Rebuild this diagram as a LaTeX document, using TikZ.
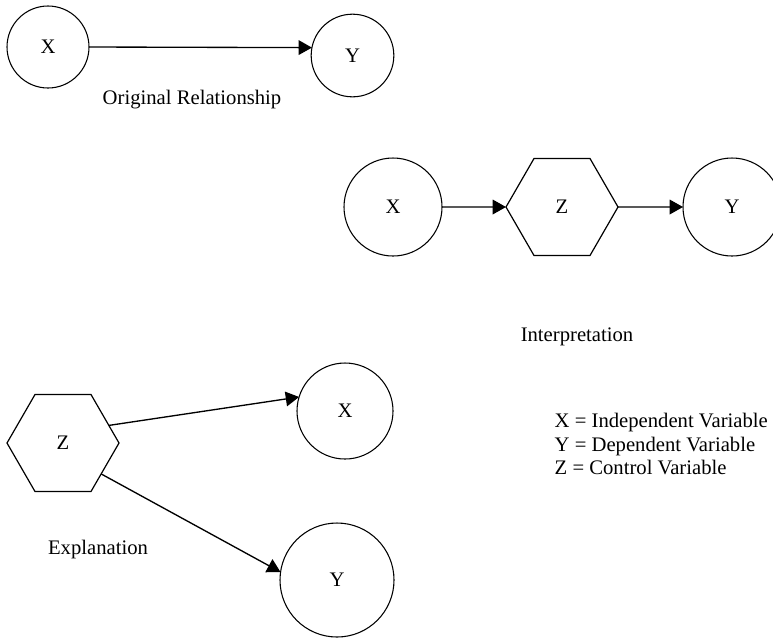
\documentclass[tikz,border=0pt]{standalone}
\usepackage{fontspec}
\setmainfont{Liberation Serif}
\usetikzlibrary{shapes.geometric,arrows.meta}

\begin{document}
\begin{tikzpicture}[x=0.75pt,y=-0.75pt,
  font=\fontsize{15.5}{17.6}\selectfont,
  var/.style={draw,circle,inner sep=0pt,outer sep=0pt,line width=0.8pt},
  ctrl/.style={draw,regular polygon,regular polygon sides=6,minimum size=84pt,inner sep=0pt,outer sep=0pt,line width=0.9pt},
  link/.style={-{Triangle[length=10pt,width=11pt]},line width=1pt}]
\useasboundingbox (0,0) rectangle (773,637);
\clip (0,0) rectangle (773,637);

% original relationship
\node[var,minimum size=61.5pt] (x1) at (48,47) {X};
\node[var,minimum size=62pt] (y1) at (352.5,55.5) {Y};
\draw[link] (x1.east) -- (y1.169);
\node (orig) at (192,100) {Original Relationship};

% interpretation
\node[var,minimum size=73.5pt] (x2) at (393,207) {X};
\node[ctrl] (z2) at (562,207) {Z};
\node[var,minimum size=73.5pt] (y2) at (732,207) {Y};
\draw[link] (x2) -- (z2);
\draw[link] (z2) -- (y2);
\node (interp) at (577,337) {Interpretation};

% explanation
\node[ctrl] (z3) at (63,443) {Z};
\node[var,minimum size=72pt] (x3) at (345,411) {X};
\node[var,minimum size=85.5pt] (y3) at (337,580) {Y};
\draw[link] (z3.21) -- (x3.163);
\draw[link] (z3.-39) -- (y3.172);
\node (expl) at (98,550) {Explanation};

\node[anchor=west,align=left] (legend) at (550,444) {X = Independent Variable\\Y = Dependent Variable\\Z = Control Variable};
\end{tikzpicture}
\end{document}
